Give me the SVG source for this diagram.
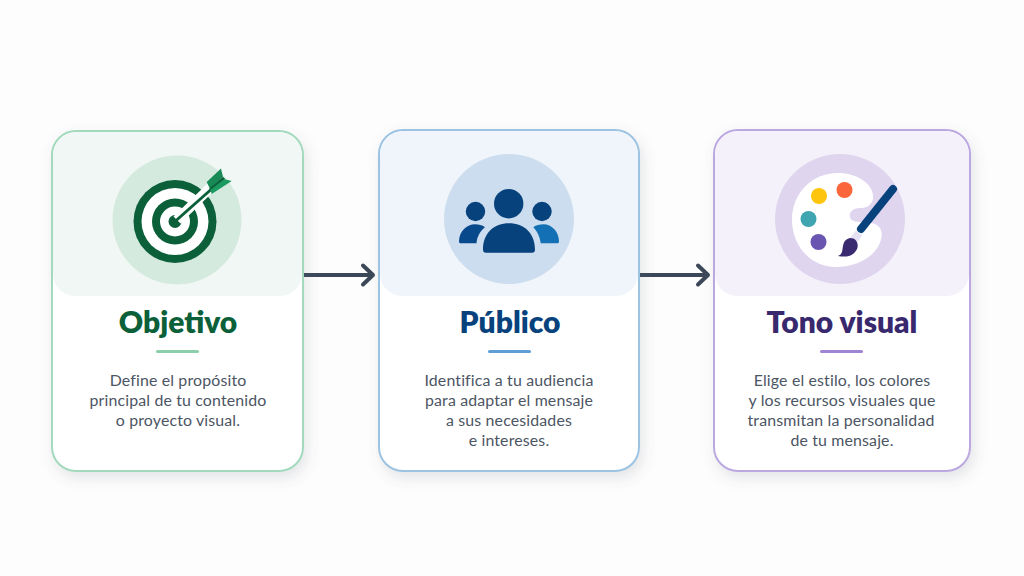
<svg xmlns="http://www.w3.org/2000/svg" width="1024" height="576" viewBox="0 0 1024 576">
<defs>
<filter id="sh" x="-20%" y="-20%" width="140%" height="140%"><feDropShadow dx="3" dy="6" stdDeviation="7" flood-color="#5a6470" flood-opacity="0.16"/></filter>
<marker id="ah" markerUnits="userSpaceOnUse" markerWidth="20" markerHeight="26" refX="15" refY="13" orient="auto"><path d="M5 3.500L15 13L5 22.500" fill="none" stroke="#3c4858" stroke-width="4" stroke-linecap="round" stroke-linejoin="round"/></marker>
</defs>
<style>
.t{font-family:"Lato","Noto Sans",sans-serif;text-anchor:middle;font-weight:800;font-size:30px}
.b{font-family:"Lato","Noto Sans",sans-serif;text-anchor:middle;font-size:15.900px;fill:#4c5563;letter-spacing:.15px}
.card{fill:#fff;stroke-width:2;filter:url(#sh)}
.link{stroke:#3c4858;stroke-width:4;fill:none;marker-end:url(#ah)}
</style>
<rect width="1024" height="576" fill="#fdfdfd"/>
<g id="connectors">
<path class="link" d="M304 275H373"/>
<path class="link" d="M640 275H708"/>
</g>
<g id="objetivo">
<rect class="card" x="52" y="131" width="251" height="340" rx="24" stroke="#a3d9bd"/>
<path d="M53 156a24 24 0 0 1 24-24H278a24 24 0 0 1 24 24V274a22 22 0 0 1-22 22H75a22 22 0 0 1-22-22Z" fill="#f0f7f4"/>
<circle cx="177" cy="220" r="64.500" fill="#d5eadf"/>
<circle cx="175" cy="221.500" r="41.500" fill="#0b5f39"/>
<circle cx="175" cy="221.500" r="33.500" fill="#fff"/>
<circle cx="175" cy="221.500" r="23" fill="#0b5f39"/>
<circle cx="175" cy="221.500" r="15" fill="#fff"/>
<circle cx="175" cy="221.500" r="6.500" fill="#0b5f39"/>
<path d="M177 220L211 187" stroke="#fff" stroke-width="10"/>
<path d="M175 221.500L224 178" stroke="#0b5f39" stroke-width="3"/>
<path d="M206.700 182L221 168.500L223 177L210 189Z" fill="#188a55"/>
<path d="M211.700 194L231.700 181L224 179L210 189Z" fill="#1b9a60"/>
<path d="M210 189L224 178" stroke="#0b5f39" stroke-width="2"/>
<text class="t" x="178" y="333" fill="#0b5f39">Objetivo</text>
<rect x="156" y="350" width="43" height="3" rx="1.500" fill="#8ccfab"/>
<text class="b"><tspan x="178" y="386">Define el propósito</tspan><tspan x="178" y="406">principal de tu contenido</tspan><tspan x="178" y="426">o proyecto visual.</tspan></text>
</g>
<g id="publico">
<rect class="card" x="379" y="130" width="260" height="341" rx="24" stroke="#9cc3e2"/>
<path d="M380 155a24 24 0 0 1 24-24H614a24 24 0 0 1 24 24V274a22 22 0 0 1-22 22H402a22 22 0 0 1-22-22Z" fill="#f0f5fb"/>
<circle cx="509" cy="219" r="65" fill="#cbddee"/>
<g fill="#07427d">
<circle cx="508.700" cy="203.700" r="14.700"/>
<circle cx="475.500" cy="211.500" r="9.700"/>
<circle cx="542" cy="211.500" r="9.700"/>
<path d="M486 252.700a3 3 0 0 1-3-3C483 233 494 223.300 509 223.300S535 233 535 249.700a3 3 0 0 1-3 3Z"/>
<path d="M459 241.500C459 231 467 224.300 475 224.300C479 224.300 482 225 485 227.300C480 231 477 237 476.500 243.300H461C459.500 243.300 459 242.500 459 241.500Z" fill="#07498b"/>
<path d="M533.300 227.300C536 225 540 224.300 543.300 224.300C552 224.300 559 232 559 241.500C559 242.500 558.500 243.300 557 243.300H540.700C540 237 537 231 533.300 227.300Z" fill="#1470b5"/>
</g>
<text class="t" x="510" y="333" fill="#07427d">Público</text>
<rect x="488" y="350" width="43" height="3" rx="1.500" fill="#5f9fd6"/>
<text class="b"><tspan x="509" y="386">Identifica a tu audiencia</tspan><tspan x="509" y="406">para adaptar el mensaje</tspan><tspan x="509" y="426">a sus necesidades</tspan><tspan x="509" y="446">e intereses.</tspan></text>
</g>
<g id="tono">
<rect class="card" x="714" y="130" width="256" height="341" rx="24" stroke="#bba8e0"/>
<path d="M715 155a24 24 0 0 1 24-24H945a24 24 0 0 1 24 24V274a22 22 0 0 1-22 22H737a22 22 0 0 1-22-22Z" fill="#f4f1fa"/>
<circle cx="840" cy="219" r="65" fill="#dfd5ee"/>
<path d="M838 173C858 173 875 185 873 199C871 206 866 208 860 208C852 208 849 213 850 217C851 222 858 222 864 222C875 222 882 226 881.700 235C880 255 858 267 836 267C810 267 792 245 792 220C792 193 812 173 838 173Z" fill="#fff"/>
<circle cx="819" cy="196" r="8" fill="#fec50f"/>
<circle cx="844.500" cy="190" r="8" fill="#fb673a"/>
<circle cx="808.500" cy="219" r="8" fill="#3fa5b1"/>
<circle cx="818.500" cy="242" r="8" fill="#6a55b0"/>
<path d="M859 233L853 241" stroke="#e6e0f3" stroke-width="8"/>
<path d="M861 229L893 189" stroke="#07427d" stroke-width="8" stroke-linecap="round"/>
<path d="M850 238C858 238 860 247 855 252C851 257 845 257 838 256C843 254 842 250 843 246C844 241 846 239 850 238Z" fill="#3a2a70"/>
<text class="t" x="842" y="333" fill="#38286e">Tono visual</text>
<rect x="820" y="350" width="43" height="3" rx="1.500" fill="#9f84d4"/>
<text class="b"><tspan x="842" y="386">Elige el estilo, los colores</tspan><tspan x="842" y="406">y los recursos visuales que</tspan><tspan x="841" y="426">transmitan la personalidad</tspan><tspan x="842" y="446">de tu mensaje.</tspan></text>
</g>
</svg>
